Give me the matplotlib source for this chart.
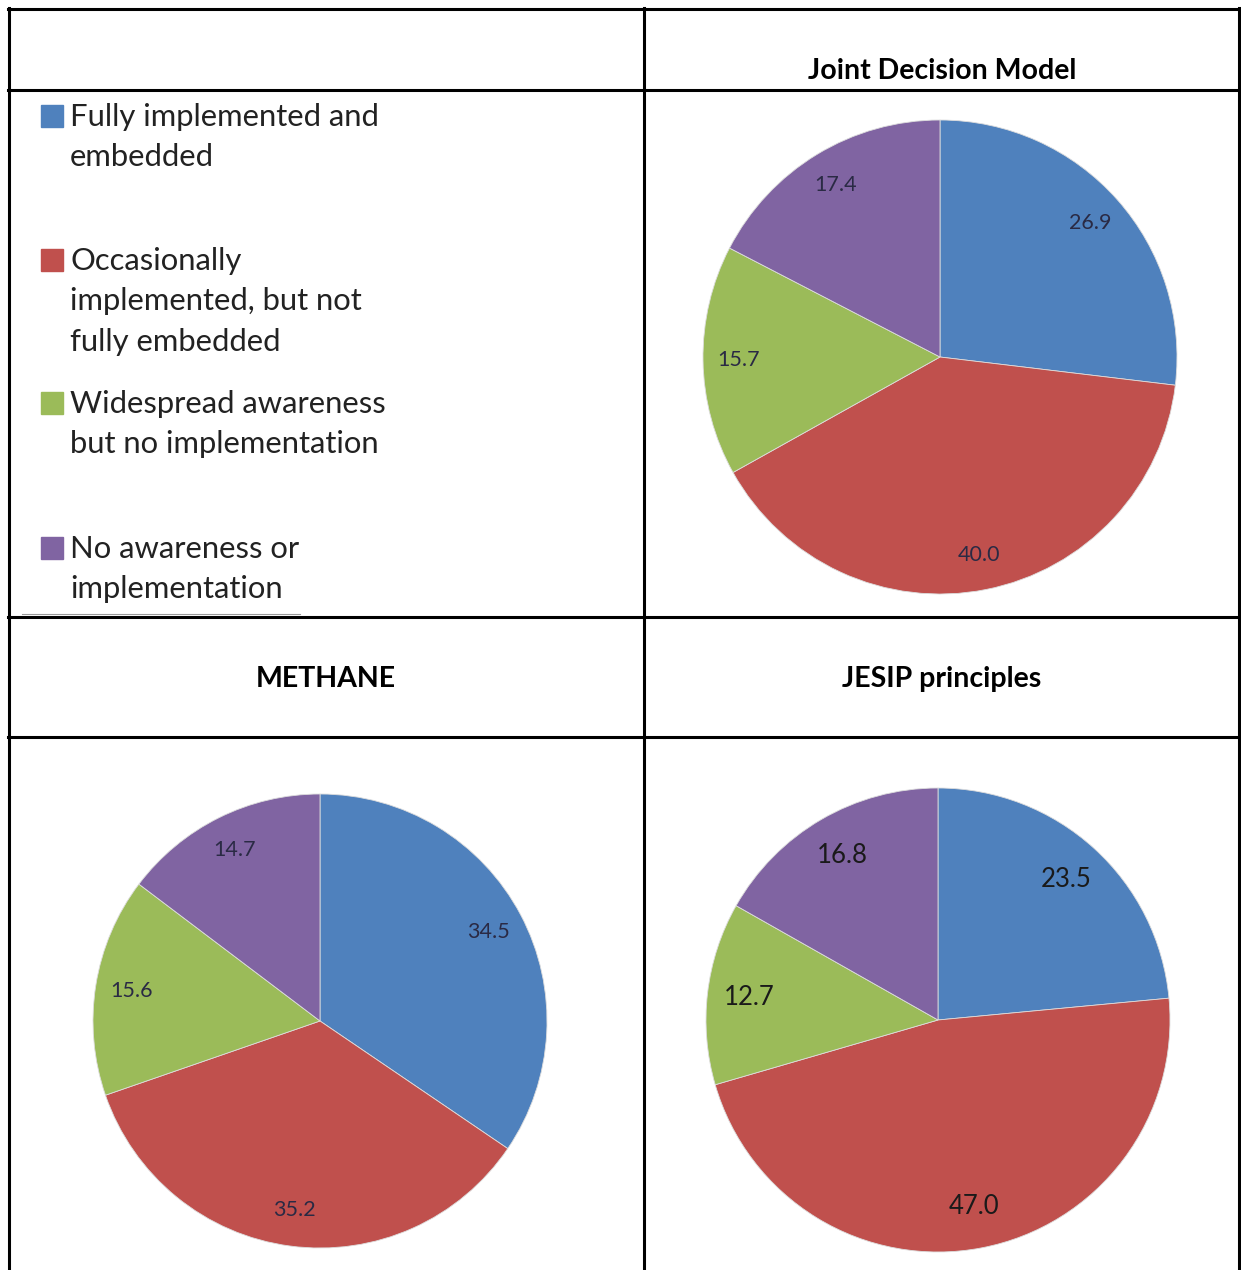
import matplotlib.pyplot as plt

plt.rcParams['font.family'] = ['Lato', 'DejaVu Sans']

# legend categories and colours
categories = ["Fully implemented and\nembedded",
              "Occasionally\nimplemented, but not\nfully embedded",
              "Widespread awareness\nbut no implementation",
              "No awareness or\nimplementation"]
colors = ["#4F81BD", "#C0504D", "#9BBB59", "#8064A2"]

# values (Fully, Occasionally, Widespread, No awareness)
jdm_values = [26.9, 40.0, 15.7, 17.4]
methane_values = [34.5, 35.2, 15.6, 14.7]
jesip_values = [23.5, 47.0, 12.7, 16.8]

W, H = 1241, 1270
fig = plt.figure(figsize=(W / 100, H / 100), dpi=100)

# background axes in pixel coordinates for the table
bg = fig.add_axes([0, 0, 1, 1])
bg.set_xlim(0, W)
bg.set_ylim(H, 0)
bg.axis('off')

lw = 2.2
for y in [9, 90, 617, 737]:
    bg.plot([8, 1240], [y, y], color='black', lw=lw, solid_capstyle='projecting')
for x in [9, 644, 1239]:
    bg.plot([x, x], [8, H + 5], color='black', lw=lw, solid_capstyle='projecting')
bg.plot([22, 300], [614, 614], color='#999999', lw=0.8)

# headers
bg.text(942, 71, "Joint Decision Model", ha='center', va='center', fontsize=20.5, fontweight='bold')
bg.text(326, 679, "METHANE", ha='center', va='center', fontsize=20.5, fontweight='bold')
bg.text(942, 679, "JESIP principles", ha='center', va='center', fontsize=20.5, fontweight='bold')

# legend
legend_y = [116, 260, 403, 548]
for lab, col, y in zip(categories, colors, legend_y):
    bg.add_patch(plt.Rectangle((41, y - 11), 22, 22, color=col))
    bg.text(70, y - 13, lab, ha='left', va='top', fontsize=22.3, color='#222222',
            linespacing=1.54)


def draw_pie(cx, cy, r, values, fs, pctd, tcol):
    ax = fig.add_axes([(cx - r) / W, 1 - (cy + r) / H, 2 * r / W, 2 * r / H])
    wedges, texts, autotexts = ax.pie(
        values, colors=colors, startangle=90, counterclock=False,
        autopct=lambda p: f"{p:.1f}", pctdistance=pctd,
        wedgeprops=dict(edgecolor='#dddddd', linewidth=0.6))
    for t in autotexts:
        t.set_fontsize(fs)
        t.set_color(tcol)
    ax.set_xlim(-1, 1)
    ax.set_ylim(-1, 1)
    ax.set_aspect('equal')
    return ax


draw_pie(940, 357, 237, jdm_values, 15.5, 0.85, '#2a2a44')
draw_pie(320, 1021, 227, methane_values, 15.5, 0.84, '#2a2a44')
draw_pie(938, 1020, 232, jesip_values, 18.5, 0.82, '#1a1a1a')

fig.savefig("out.png", dpi=100)
